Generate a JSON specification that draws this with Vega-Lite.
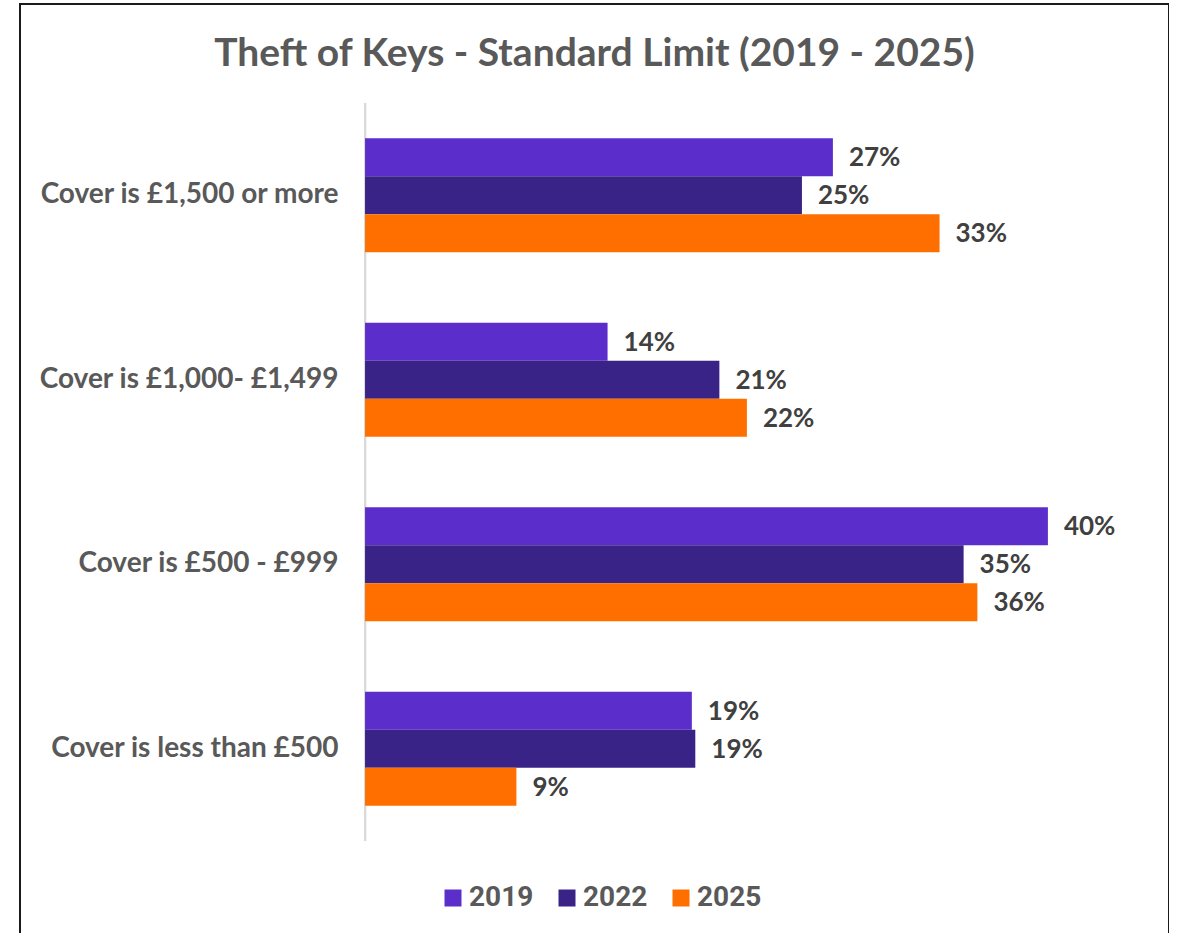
{
  "$schema": "https://vega.github.io/schema/vega-lite/v6.json",
  "autosize": "none",
  "padding": {"left": 20, "top": 4, "right": 0, "bottom": 0},
  "width": 1149,
  "height": 936,
  "background": "white",
  "config": {
    "view": {"stroke": "#1a1a1a", "strokeWidth": 2},
    "font": "Lato"
  },
  "title": {
    "text": "Theft of Keys - Standard Limit (2019 - 2025)",
    "anchor": "middle",
    "frame": "group",
    "font": "Lato",
    "fontSize": 39,
    "fontWeight": "bold",
    "color": "#595959",
    "baseline": "alphabetic",
    "offset": -101
  },
  "data": {
    "values": [
      {"category": "Cover is £1,500 or more", "year": "2019", "value": 0.272},
      {"category": "Cover is £1,500 or more", "year": "2022", "value": 0.254},
      {"category": "Cover is £1,500 or more", "year": "2025", "value": 0.334},
      {"category": "Cover is £1,000- £1,499", "year": "2019", "value": 0.141},
      {"category": "Cover is £1,000- £1,499", "year": "2022", "value": 0.206},
      {"category": "Cover is £1,000- £1,499", "year": "2025", "value": 0.222},
      {"category": "Cover is £500 - £999", "year": "2019", "value": 0.397},
      {"category": "Cover is £500 - £999", "year": "2022", "value": 0.348},
      {"category": "Cover is £500 - £999", "year": "2025", "value": 0.356},
      {"category": "Cover is less than £500", "year": "2019", "value": 0.190},
      {"category": "Cover is less than £500", "year": "2022", "value": 0.192},
      {"category": "Cover is less than £500", "year": "2025", "value": 0.088}
    ]
  },
  "encoding": {
    "y": {
      "field": "category",
      "type": "nominal",
      "sort": null,
      "scale": {
        "domain": ["Cover is £1,500 or more", "Cover is £1,000- £1,499", "Cover is £500 - £999", "Cover is less than £500"],
        "paddingInner": 0,
        "paddingOuter": 0.5366
      },
      "axis": {
        "title": null,
        "orient": "left",
        "offset": -345,
        "domain": false,
        "ticks": false,
        "tickSize": 0,
        "grid": false,
        "labelPadding": 27,
        "labelFont": "Lato",
        "labelFontSize": 28,
        "labelFontWeight": "bold",
        "labelColor": "#595959",
        "labelLimit": 400
      }
    }
  },
  "layer": [
    {
      "mark": {"type": "rule", "color": "#d9d9d9", "strokeWidth": 2},
      "encoding": {
        "x": {"datum": 0, "type": "quantitative", "scale": {"domain": [-0.2006, 0.4674]}, "axis": null},
        "y": {"datum": "Cover is £1,500 or more", "bandPosition": 0},
        "y2": {"datum": "Cover is less than £500", "bandPosition": 1}
      }
    },
    {
      "mark": {"type": "bar"},
      "encoding": {
        "x": {"field": "value", "type": "quantitative", "scale": {"domain": [-0.2006, 0.4674]}, "axis": null},
        "x2": {"datum": 0},
        "yOffset": {"field": "year", "type": "nominal", "scale": {"paddingInner": 0, "paddingOuter": 0.9276}},
        "color": {
          "field": "year",
          "type": "nominal",
          "scale": {"domain": ["2019", "2022", "2025"], "range": ["#5b2ecc", "#3a2386", "#ff6f00"]},
          "legend": {
            "title": null,
            "orient": "none",
            "direction": "horizontal",
            "legendX": 419,
            "legendY": 880,
            "symbolType": "square",
            "symbolSize": 289,
            "symbolStrokeWidth": 0,
            "labelFont": "Roboto",
            "labelFontSize": 28,
            "labelFontWeight": "bold",
            "labelColor": "#595959",
            "labelOffset": 2,
            "columnPadding": 19
          }
        }
      }
    },
    {
      "mark": {"type": "text", "align": "left", "baseline": "middle", "dx": 16, "dy": 1, "font": "Lato", "fontSize": 26, "fontWeight": "bold", "color": "#404040"},
      "encoding": {
        "x": {"field": "value", "type": "quantitative", "scale": {"domain": [-0.2006, 0.4674]}, "axis": null},
        "yOffset": {"field": "year", "type": "nominal", "scale": {"paddingInner": 0, "paddingOuter": 0.9276}},
        "text": {"field": "value", "type": "quantitative", "format": ".0%"}
      }
    }
  ]
}
